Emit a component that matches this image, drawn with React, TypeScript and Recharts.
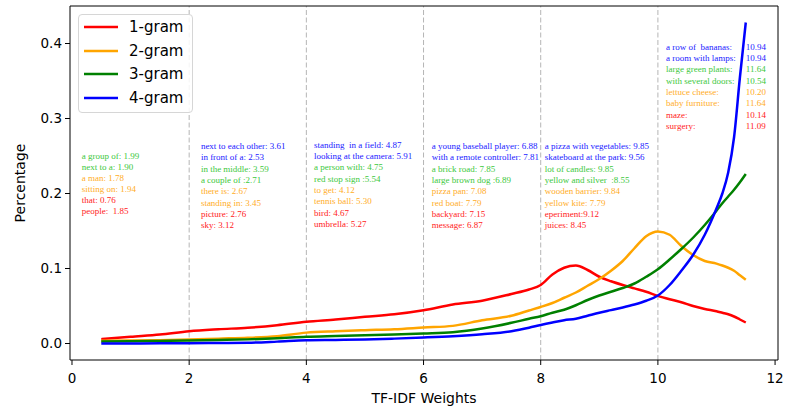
import React from 'react';
import { LineChart, Line, XAxis, YAxis, ReferenceLine, ReferenceDot, Legend } from 'recharts';

// ---- data ----
const weights = [0.5, 1, 1.5, 2, 2.5, 3, 3.5, 4, 4.5, 5, 5.5, 6, 6.5, 7, 7.5, 7.8, 8, 8.2, 8.4, 8.6, 8.8, 9, 9.2, 9.4, 9.6, 9.8, 10, 10.2, 10.4, 10.6, 10.8, 11, 11.1, 11.2, 11.3, 11.4, 11.5];
const gram1 = [0.0058, 0.009, 0.012, 0.0164, 0.019, 0.021, 0.0244, 0.029, 0.032, 0.0356, 0.039, 0.0444, 0.052, 0.057, 0.066, 0.072, 0.078, 0.092, 0.101, 0.104, 0.098, 0.089, 0.083, 0.078, 0.0735, 0.069, 0.0635, 0.059, 0.055, 0.05, 0.046, 0.043, 0.041, 0.039, 0.036, 0.032, 0.028];
const gram2 = [0.0036, 0.004, 0.0045, 0.0053, 0.0065, 0.0076, 0.0098, 0.0145, 0.0164, 0.0178, 0.019, 0.0213, 0.0235, 0.031, 0.037, 0.044, 0.0487, 0.054, 0.061, 0.068, 0.077, 0.086, 0.097, 0.11, 0.127, 0.143, 0.1495, 0.145, 0.13, 0.118, 0.11, 0.1065, 0.104, 0.101, 0.097, 0.091, 0.085];
const gram3 = [0.0027, 0.003, 0.0035, 0.004, 0.0047, 0.0055, 0.007, 0.0089, 0.01, 0.011, 0.012, 0.0133, 0.015, 0.02, 0.0276, 0.033, 0.0364, 0.041, 0.045, 0.051, 0.058, 0.064, 0.069, 0.074, 0.08, 0.089, 0.099, 0.112, 0.126, 0.141, 0.158, 0.177, 0.187, 0.196, 0.205, 0.215, 0.226];
const gram4 = [0.0, 0.0001, 0.0002, 0.0004, 0.0007, 0.001, 0.0025, 0.0044, 0.0048, 0.0053, 0.0065, 0.008, 0.0098, 0.0124, 0.0164, 0.021, 0.0247, 0.028, 0.031, 0.033, 0.037, 0.041, 0.0445, 0.048, 0.052, 0.057, 0.064, 0.078, 0.097, 0.118, 0.145, 0.18, 0.2, 0.228, 0.275, 0.355, 0.428];

const seriesNames = ['1-gram', '2-gram', '3-gram', '4-gram'];
const seriesValues = [gram1, gram2, gram3, gram4];
const xTicks = [0, 2, 4, 6, 8, 10, 12];
const yTicks = [0, 0.1, 0.2, 0.3, 0.4];
const dividers = [2, 4, 6, 8, 10];

// annotation text: [text, n-gram index]
const notes1: [string, number][] = [
  ['a group of: 1.99', 2], ['next to a: 1.90', 2], ['a man: 1.78', 1], ['sitting on: 1.94', 1], ['that: 0.76', 0], ['people:  1.85', 0],
];
const notes2: [string, number][] = [
  ['next to each other: 3.61', 3], ['in front of a: 2.53', 3], ['in the middle: 3.59', 2], ['a couple of :2.71', 2],
  ['there is: 2.67', 1], ['standing in: 3.45', 1], ['picture: 2.76', 0], ['sky: 3.12', 0],
];
const notes3: [string, number][] = [
  ['standing  in a field: 4.87', 3], ['looking at the camera: 5.91', 3], ['a person with: 4.75', 2], ['red stop sign :5.54', 2],
  ['to get: 4.12', 1], ['tennis ball: 5.30', 1], ['bird: 4.67', 0], ['umbrella: 5.27', 0],
];
const notes4: [string, number][] = [
  ['a young baseball player: 6.88', 3], ['with a remote controller: 7.81', 3], ['a brick road: 7.85', 2], ['large brown dog :6.89', 2],
  ['pizza pan: 7.08', 1], ['red boat: 7.79', 1], ['backyard: 7.15', 0], ['message: 6.87', 0],
];
const notes5: [string, number][] = [
  ['a pizza with vegetables: 9.85', 3], ['skateboard at the park: 9.56', 3], ['lot of candles: 9.85', 2], ['yellow and silver  :8.55', 2],
  ['wooden barrier: 9.84', 1], ['yellow kite: 7.79', 1], ['eperiment:9.12', 0], ['juices: 8.45', 0],
];
const notes6Names: [string, number][] = [
  ['a row of  bananas:', 3], ['a room with lamps:', 3], ['large green plants:', 2], ['with several doors:', 2],
  ['lettuce cheese:', 1], ['baby furniture:', 1], ['maze:', 0], ['surgery:', 0],
];
const notes6Values: [string, number][] = [
  ['10.94', 3], ['10.94', 3], ['11.64', 2], ['10.54', 2], ['10.20', 1], ['11.64', 1], ['10.14', 0], ['11.09', 0],
];

// ---- styling / layout ----
const lineColors = ['#ff0000', '#ffa500', '#008000', '#0000ff'];
const noteColors = ['#ff1a1a', '#ffad1f', '#3cc83c', '#1a1aff'];
const X_DOMAIN: [number, number] = [-0.034, 12.05];
const Y_DOMAIN: [number, number] = [-0.022, 0.45];
const AXIS_FONT = 'DejaVu Sans, sans-serif';
const NOTE_FONT = 'Liberation Serif, Times New Roman, serif';

const noteBlocks = [
  { lines: notes1, x: 0.166, y: 0.25, step: 10.9 },
  { lines: notes2, x: 2.2, y: 0.2633, step: 11.35 },
  { lines: notes3, x: 4.13, y: 0.2653, step: 11.35 },
  { lines: notes4, x: 6.14, y: 0.2633, step: 11.35 },
  { lines: notes5, x: 8.07, y: 0.2633, step: 11.35 },
  { lines: notes6Names, x: 10.14, y: 0.3957, step: 11.35 },
  { lines: notes6Values, x: 11.5, y: 0.3957, step: 11.35 },
];

const chartData = seriesValues.map((vals) => weights.map((w, i) => ({ x: w, y: vals[i] })));

const makeNoteContent = (lines: [string, number][], step: number) => (props: any) => {
  const vb = props.viewBox || {};
  const cx = (vb.x ?? 0) + (vb.width ?? 0) / 2;
  const cy = (vb.y ?? 0) + (vb.height ?? 0) / 2;
  return (
    <g>
      {lines.map(([t, c], i) => (
        <text
          key={i}
          x={cx}
          y={cy + i * step}
          fill={noteColors[c]}
          fontSize={9}
          fontFamily={NOTE_FONT}
          dominantBaseline="central"
          style={{ whiteSpace: 'pre' }}
        >
          {t}
        </text>
      ))}
    </g>
  );
};

const LegendBox = () => (
  <div
    style={{
      width: 115,
      height: 99,
      boxSizing: 'border-box',
      border: '1px solid #d6d6d6',
      borderRadius: 4,
      background: 'rgba(255,255,255,0.85)',
      position: 'relative',
      fontFamily: AXIS_FONT,
      fontSize: 15,
      color: '#000',
    }}
  >
    {seriesNames.map((n, i) => (
      <div key={n} style={{ position: 'absolute', left: 0, top: 1 + i * 23.5, height: 22, width: 113 }}>
        <svg width={40} height={22} style={{ position: 'absolute', left: 5, top: 0 }}>
          <line x1={0} x2={34} y1={11} y2={11} stroke={lineColors[i]} strokeWidth={2.5} />
        </svg>
        <span style={{ position: 'absolute', left: 50, top: 1, lineHeight: '20px' }}>{n}</span>
      </div>
    ))}
  </div>
);

export default function App() {
  return (
    <div style={{ position: 'absolute', left: 0, top: 0, width: 789, height: 413, background: '#fff' }}>
      <LineChart width={789} height={413} margin={{ top: 6, right: 11, left: 0, bottom: 0 }}>
        <XAxis
          type="number"
          dataKey="x"
          domain={X_DOMAIN}
          ticks={xTicks}
          allowDataOverflow
          height={53}
          tickSize={5}
          tickMargin={8}
          axisLine={{ stroke: '#000', strokeWidth: 1 }}
          tickLine={{ stroke: '#000' }}
          tick={{ fill: '#000', fontSize: 13.5, fontFamily: AXIS_FONT }}
          label={{
            content: (p: any) => {
              const vb = p.viewBox || {};
              return (
                <text x={vb.x + vb.width / 2} y={vb.y + 38} textAnchor="middle" dominantBaseline="central" fontSize={14} fontFamily={AXIS_FONT} fill="#000">
                  TF-IDF Weights
                </text>
              );
            },
          }}
        />
        <YAxis
          type="number"
          dataKey="y"
          domain={Y_DOMAIN}
          ticks={yTicks}
          allowDataOverflow
          width={70}
          tickSize={5}
          tickMargin={3}
          tickFormatter={(v: number) => v.toFixed(1)}
          axisLine={{ stroke: '#000', strokeWidth: 1 }}
          tickLine={{ stroke: '#000' }}
          tick={{ fill: '#000', fontSize: 13.5, fontFamily: AXIS_FONT }}
          label={{
            content: (p: any) => {
              const vb = p.viewBox || {};
              const x = vb.x + 20;
              const y = vb.y + vb.height / 2;
              return (
                <text x={x} y={y} transform={`rotate(-90 ${x} ${y})`} textAnchor="middle" dominantBaseline="central" fontSize={14} fontFamily={AXIS_FONT} fill="#000">
                  Percentage
                </text>
              );
            },
          }}
        />
        {dividers.map((d) => (
          <ReferenceLine key={d} x={d} stroke="#b5b5b5" strokeWidth={1} strokeDasharray="5 2.5" />
        ))}
        <ReferenceLine y={Y_DOMAIN[1]} stroke="#000" strokeWidth={1} />
        <ReferenceLine x={X_DOMAIN[1]} stroke="#000" strokeWidth={1} />
        {noteBlocks.map((b, i) => (
          <ReferenceDot key={i} x={b.x} y={b.y} r={1} fill="none" stroke="none" label={{ content: makeNoteContent(b.lines, b.step) }} />
        ))}
        {seriesNames.map((n, i) => (
          <Line
            key={n}
            name={n}
            data={chartData[i]}
            dataKey="y"
            type="monotone"
            stroke={lineColors[i]}
            strokeWidth={2.5}
            dot={false}
            activeDot={false}
            isAnimationActive={false}
          />
        ))}
        <Legend
          layout="vertical"
          align="center"
          verticalAlign="middle"
          content={() => <LegendBox />}
          wrapperStyle={{ position: 'absolute', left: 78, top: 14, width: 115, height: 99 }}
        />
      </LineChart>
    </div>
  );
}
